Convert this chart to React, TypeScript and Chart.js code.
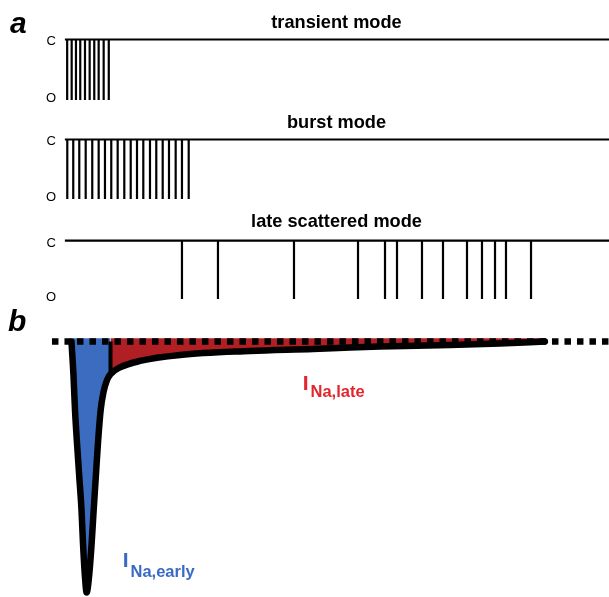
import React, { useEffect, useRef } from "react";
import { Chart, registerables } from "chart.js";

Chart.register(...registerables);

// ---- shared time axis (ms) ----
const X_MIN = -12.15;
const X_MAX = 100;

// ---- panel a: single-channel openings (times in ms) ----
const CLOSED = 1;
const OPEN = 0;
const recordStart = -0.2;
const recordEnd = 100;
const transientOpenings = [0.22, 1.05, 1.84, 2.63, 3.5, 4.36, 5.21, 6.02, 6.94, 7.88];
const burstOpenings = [
  0.24, 1.34, 2.45, 3.63, 4.84, 6.02, 7.18, 8.34, 9.52, 10.74, 11.92, 13.08, 14.24, 15.47,
  16.63, 17.81, 18.97, 20.2, 21.36, 22.6,
];
const lateOpenings = [21.36, 27.99, 41.99, 53.78, 58.75, 60.96, 65.56, 69.43, 73.85, 76.61, 79.01, 81.03, 85.64];
const modeTitles = ["transient mode", "burst mode", "late scattered mode"];

// ---- panel b: macroscopic Na current (% of peak) ----
const traceTime = [
  1.01, 1.38, 1.66, 2.03, 2.45, 2.86, 3.13, 3.5, 3.8, 4.24, 4.73, 5.1, 5.49, 5.89, 6.39, 6.91,
  7.55, 8.2, 9.94, 13.63, 21.0, 33.9, 45.5, 52.3, 57.8, 70.7, 79.9, 88.2,
];
const traceCurrent = [
  0, -13.5, -27.5, -40.8, -54.4, -67.7, -80.9, -94.6, -100.8, -94.6, -80.9, -67.7, -54.4, -40.8,
  -27.5, -20.3, -15.5, -13.1, -10.4, -7.8, -5.4, -3.8, -3.0, -2.4, -2.0, -1.4, -0.8, 0,
];
const earlyLateSplit = 8.2;
const baselineStart = -2.58;
const fillRef = 1.3;

const FONT = "'Liberation Sans', Arial, Helvetica, sans-serif";
const BLUE_FILL = "#3b6cc0";
const RED_FILL = "#b01f24";
const BLUE_TEXT = "#3a6bc4";
const RED_TEXT = "#e4252c";

function channelTrace(openings: number[]) {
  const pts: { x: number; y: number }[] = [{ x: recordStart, y: CLOSED }];
  openings.forEach((t) => {
    pts.push({ x: t, y: CLOSED }, { x: t, y: OPEN }, { x: t, y: CLOSED });
  });
  pts.push({ x: recordEnd, y: CLOSED });
  return pts;
}

function ChartBox(props: {
  top: number;
  height: number;
  padTop: number;
  padBottom: number;
  yMin: number;
  yMax: number;
  makeDatasets: () => any[];
}) {
  const ref = useRef<HTMLCanvasElement | null>(null);
  useEffect(() => {
    if (!ref.current) return;
    const chart = new Chart(ref.current, {
      type: "line",
      data: { datasets: props.makeDatasets() },
      options: {
        responsive: false,
        maintainAspectRatio: false,
        animation: false,
        events: [],
        layout: { padding: { top: props.padTop, bottom: props.padBottom, left: 0, right: 0 } },
        plugins: { legend: { display: false }, tooltip: { enabled: false } },
        elements: { point: { radius: 0, hoverRadius: 0 } },
        scales: {
          x: { type: "linear", min: X_MIN, max: X_MAX, display: false },
          y: { type: "linear", min: props.yMin, max: props.yMax, display: false },
        },
      },
    } as any);
    return () => chart.destroy();
  }, []);
  return (
    <canvas
      ref={ref}
      width={609}
      height={props.height}
      style={{ position: "absolute", left: 0, top: props.top, width: 609, height: props.height }}
    />
  );
}

function rowDatasets(openings: number[]) {
  return () => [
    {
      data: channelTrace(openings),
      borderColor: "#000",
      borderWidth: 2.2,
      borderJoinStyle: "miter",
      borderCapStyle: "butt",
      tension: 0,
      fill: false,
      clip: false,
    },
  ];
}

function currentDatasets() {
  const pts = traceTime.map((t, i) => ({ x: t, y: traceCurrent[i] }));
  const early = pts.filter((p) => p.x <= earlyLateSplit);
  const late = pts.filter((p) => p.x >= earlyLateSplit);
  const splitVal = traceCurrent[traceTime.indexOf(earlyLateSplit)];
  return [
    {
      data: [
        { x: baselineStart, y: 0 },
        { x: X_MAX, y: 0 },
      ],
      borderColor: "#000",
      borderWidth: 6.5,
      borderDash: [6.5, 6],
      borderCapStyle: "butt",
      fill: false,
      clip: false,
    },
    {
      data: [
        { x: earlyLateSplit, y: 0 },
        { x: earlyLateSplit, y: splitVal },
      ],
      borderColor: "#000",
      borderWidth: 4,
      fill: false,
      clip: false,
    },
    {
      data: pts,
      borderColor: "#000",
      borderWidth: 6.5,
      borderJoinStyle: "round",
      borderCapStyle: "round",
      cubicInterpolationMode: "monotone",
      fill: false,
      clip: false,
    },
    {
      data: late,
      borderColor: "rgba(0,0,0,0)",
      borderWidth: 0,
      backgroundColor: RED_FILL,
      cubicInterpolationMode: "monotone",
      fill: { value: fillRef },
      clip: false,
    },
    {
      data: early,
      borderColor: "rgba(0,0,0,0)",
      borderWidth: 0,
      backgroundColor: BLUE_FILL,
      cubicInterpolationMode: "monotone",
      fill: { value: fillRef },
      clip: false,
    },
  ];
}

function Txt(props: { left: number; top: number; size: number; style?: any; children: any; width?: number; center?: boolean }) {
  return (
    <div
      style={{
        position: "absolute",
        left: props.left,
        top: props.top,
        width: props.width,
        textAlign: props.center ? "center" : "left",
        fontFamily: FONT,
        fontSize: props.size,
        lineHeight: `${props.size}px`,
        whiteSpace: "nowrap",
        zIndex: 2,
        ...(props.style || {}),
      }}
    >
      {props.children}
    </div>
  );
}

export default function App() {
  const rows = [
    { c: 39.5, o: 100, top: 29, height: 82, openings: transientOpenings, title: 28.3 },
    { c: 139.5, o: 199, top: 129, height: 81, openings: burstOpenings, title: 128.3 },
    { c: 240.6, o: 299, top: 230, height: 80, openings: lateOpenings, title: 227.3 },
  ];
  const asc = 0.8465;
  return (
    <div style={{ position: "absolute", left: 0, top: 0, width: 609, height: 597, background: "#fff", overflow: "hidden" }}>
      {rows.map((r, i) => (
        <ChartBox
          key={i}
          top={r.top}
          height={r.height}
          padTop={r.c - r.top}
          padBottom={r.top + r.height - r.o}
          yMin={OPEN}
          yMax={CLOSED}
          makeDatasets={rowDatasets(r.openings)}
        />
      ))}
      <ChartBox top={320} height={277} padTop={14.03} padBottom={6.5} yMin={-100} yMax={3} makeDatasets={currentDatasets} />

      <Txt left={10} top={33 - asc * 30} size={30} style={{ fontWeight: "bold", fontStyle: "italic" }}>a</Txt>
      <Txt left={8} top={331.7 - asc * 30} size={30} style={{ fontWeight: "bold", fontStyle: "italic" }}>b</Txt>

      {rows.map((r, i) => (
        <React.Fragment key={"t" + i}>
          <Txt left={336.5 - 150} width={300} center top={r.title - asc * 18.2} size={18.2} style={{ fontWeight: "bold" }}>
            {modeTitles[i]}
          </Txt>
          <Txt left={41.3} width={20} center top={r.c + 1.3 - 0.488 * 13} size={13}>C</Txt>
          <Txt left={41} width={20} center top={r.o - 2.7 - 0.488 * 13} size={13}>O</Txt>
        </React.Fragment>
      ))}

      <Txt left={302.7} top={390 - asc * 21} size={21} style={{ fontWeight: "bold", color: RED_TEXT }}>I</Txt>
      <Txt left={310.5} top={396.7 - asc * 16.5} size={16.5} style={{ fontWeight: "bold", color: RED_TEXT }}>Na,late</Txt>
      <Txt left={122.7} top={567 - asc * 21} size={21} style={{ fontWeight: "bold", color: BLUE_TEXT }}>I</Txt>
      <Txt left={130.5} top={577.3 - asc * 16.5} size={16.5} style={{ fontWeight: "bold", color: BLUE_TEXT }}>Na,early</Txt>
    </div>
  );
}
